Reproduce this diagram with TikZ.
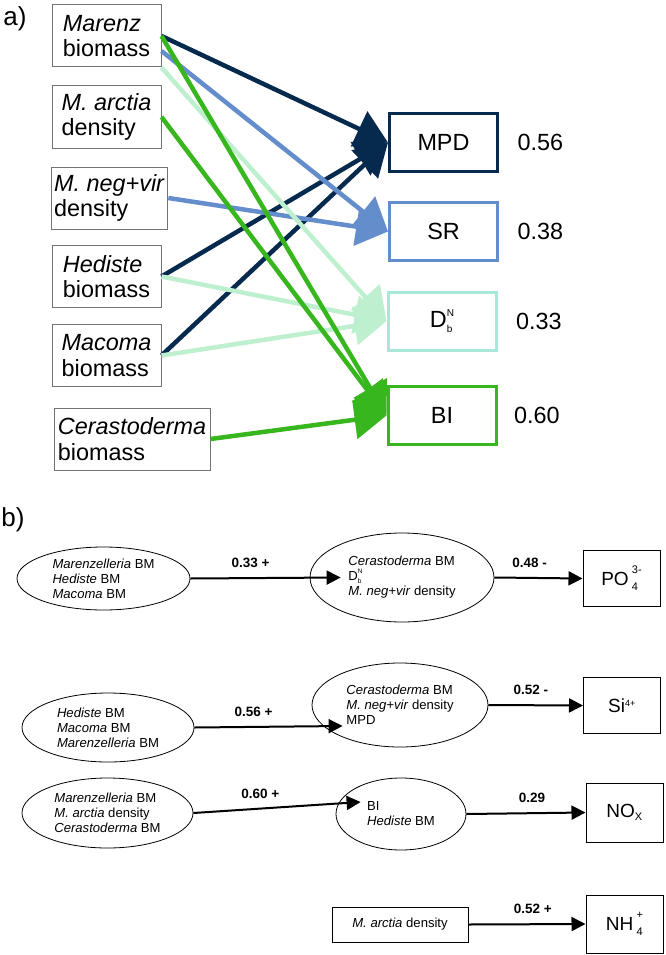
\documentclass[tikz,border=0pt]{standalone}
\usepackage{fontspec}
\setmainfont{Liberation Sans}
\usetikzlibrary{arrows.meta,shapes.geometric,positioning}
\definecolor{mpdnavy}{RGB}{5,42,77}
\definecolor{srblue}{RGB}{100,141,204}
\definecolor{dbmint}{RGB}{190,240,208}
\definecolor{dbaqua}{RGB}{168,232,218}
\definecolor{bigreen}{RGB}{56,182,30}
\newcommand{\subsup}[3]{{\fontsize{#1}{#1}\selectfont\rlap{\raisebox{-0.45em}{#2}}\raisebox{1.1em}{#3}}}

\begin{document}
\begin{tikzpicture}[x=1pt,y=-1pt,
  lbl/.style={font=\fontsize{23.4}{25.5}\selectfont},
  spbox/.style={lbl,draw=black!55,line width=1pt,align=left,minimum width=109pt,minimum height=62pt,inner xsep=3pt},
  respbox/.style={lbl,draw=#1,line width=3pt,minimum width=108pt,minimum height=58pt},
  effect/.style={draw=#1,line width=4.5pt,-{Triangle[length=32pt,width=38pt]}},
  bsmall/.style={font=\fontsize{13.1}{15}\selectfont},
  grp/.style={bsmall,ellipse,draw,line width=0.8pt,align=left,inner sep=0pt},
  coef/.style={font=\fontsize{13.5}{15}\selectfont\bfseries,above=6pt},
  nutbox/.style={font=\fontsize{19}{21}\selectfont,draw,line width=1pt,minimum width=77pt,minimum height=56pt},
  link/.style={line width=2pt,-{Triangle[length=14pt,width=14pt]}}]
\useasboundingbox (0,0) rectangle (666,955);

\node[lbl,font=\fontsize{26}{28}\selectfont] (panela) at (15,19) {a)};
\node[spbox] (marenz) at (106.5,36) {\textit{Marenz}\\biomass};
\node[spbox] (arctia) at (106.5,117) {\textit{M. arctia}\\density};
\node[spbox,minimum width=115pt] (negvir) at (109.5,198) {\textit{M. neg+vir}\\density};
\node[spbox] (hediste) at (106.5,276.5) {\textit{Hediste}\\biomass};
\node[spbox] (macoma) at (106.5,355.5) {\textit{Macoma}\\biomass};
\node[spbox,minimum width=156pt] (cerasto) at (132,439) {\textit{Cerastoderma}\\biomass};

\node[respbox=mpdnavy] (mpd) at (443.5,142.5) {MPD};
\node[respbox=srblue] (sr) at (443.5,231.5) {SR};
\node[respbox=dbaqua] (dbn) at (442,321) {D\subsup{10}{b}{N}};
\node[respbox=bigreen] (bi) at (442,415.5) {BI};
\node[lbl,right=15pt of mpd] (r2mpd) {0.56};
\node[lbl,right=15pt of sr] (r2sr) {0.38};
\node[lbl,right=15pt of dbn] (r2dbn) {0.33};
\node[lbl,right=13pt of bi] (r2bi) {0.60};

\foreach \src in {marenz,hediste,macoma}
  \draw[effect=mpdnavy] (\src.east) -- (mpd.west);
\draw[effect=srblue] ([yshift=-15pt]marenz.east) -- (sr.west);
\draw[effect=srblue] (negvir.east) -- (sr.west);
\draw[effect=dbmint] (marenz.south east) -- (dbn.west);
\foreach \src in {hediste,macoma}
  \draw[effect=dbmint] (\src.east) -- (dbn.west);
\foreach \src in {marenz,arctia,cerasto}
  \draw[effect=bigreen] (\src.east) -- (bi.west);

\node[lbl,font=\fontsize{26}{28}\selectfont] (panelb) at (13,520) {b)};

\node[grp,minimum width=173pt,minimum height=63pt] (g1) at (103.5,578.5) {\textit{Marenzelleria} BM\\\textit{Hediste} BM\\\textit{Macoma} BM};
\node[grp,minimum width=184pt,minimum height=89pt] (m1) at (402,577.5) {\textit{Cerastoderma} BM\\D\subsup{6.5}{b}{N}\\\textit{M. neg+vir} density};
\node[nutbox] (po) at (621.5,578.5) {PO\,\subsup{11}{4}{3-}};
\draw[link] (g1.east) -- node[coef,pos=0.4]{0.33 +} ([xshift=31pt]m1.west);
\draw[link] (m1.east) -- node[coef,pos=0.4]{0.48 -} (po.west);

\node[grp,minimum width=172pt,minimum height=69pt] (g2) at (108,727.5) {\textit{Hediste} BM\\\textit{Macoma} BM\\\textit{Marenzelleria} BM};
\node[grp,minimum width=176pt,minimum height=84pt] (m2) at (400,705) {\textit{Cerastoderma} BM\\\textit{M. neg+vir} density\\MPD};
\node[nutbox] (si) at (622,705.5) {Si\textsuperscript{\fontsize{9}{9}\selectfont 4+}};
\draw[link] (g2.east) -- node[coef,pos=0.4]{0.56 +} ([shift={(31pt,-21pt)}]m2.west);
\draw[link] (m2.east) -- node[coef,pos=0.45]{0.52 -} (si.west);

\node[grp,minimum width=171pt,minimum height=70pt] (g3) at (107.5,813) {\textit{Marenzelleria} BM\\\textit{M. arctia} density\\\textit{Cerastoderma} BM};
\node[grp,minimum width=130pt,minimum height=72pt] (m3) at (401,814) {BI\\\textit{Hediste} BM};
\node[nutbox,minimum height=59pt] (nox) at (624.5,812.5) {NO\textsubscript{\fontsize{11}{11}\selectfont X}};
\draw[link] (g3.east) -- node[coef,pos=0.4]{0.60 +} ([shift={(25pt,12pt)}]m3.west);
\draw[link] (m3.east) -- node[coef,pos=0.55]{0.29} (nox.west);

\node[bsmall,draw,line width=0.8pt,minimum width=136pt,minimum height=35pt] (arctd) at (400,924.5) {\textit{M. arctia} density};
\node[nutbox,minimum height=58pt] (nh) at (624.5,924) {NH\,\subsup{11}{4}{+}};
\draw[link] (arctd.east) -- node[coef,pos=0.55]{0.52 +} (nh.west);
\end{tikzpicture}
\end{document}
